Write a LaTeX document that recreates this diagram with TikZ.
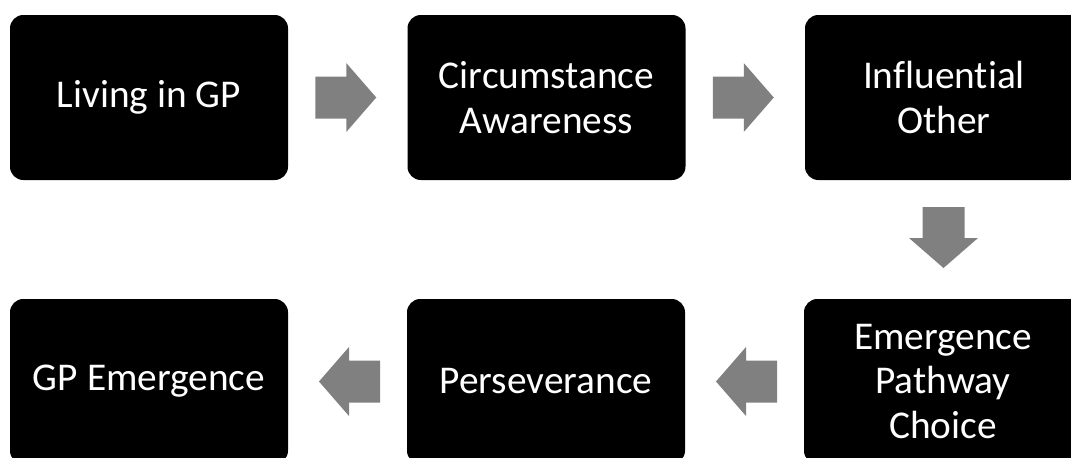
\documentclass[tikz,border=0pt]{standalone}
\usepackage{fontspec}
\setmainfont{Carlito}[Ligatures=NoCommon]
\usetikzlibrary{calc}
\definecolor{arrowgray}{HTML}{808080}
\tikzset{
  box/.style={fill=black, rounded corners=10pt, minimum width=208.5pt, minimum height=123.75pt,
    inner sep=0pt, text=white, align=center, font=\fontsize{29.5}{33.5}\selectfont},
  blockarrow/.pic={
    \fill[arrowgray] (-30.5,-21) -- (0.5,-21) -- (0.5,-34.5) -- (30.5,0) -- (0.5,34.5) -- (0.5,21) -- (-30.5,21) -- cycle;
  }
}
\begin{document}
\begin{tikzpicture}[x=0.75pt,y=-0.75pt]
\useasboundingbox (0,0) rectangle (1071,457);
\clip (0,0) rectangle (1071,457);
\node[box] (a) at (149,97.5) {Living in GP};
\node[box] (b) at (546.5,97.5) {Circumstance\\Awareness};
\node[box] (c) at (944,97.5) {Influential\\Other};
\node[box] (d) at (943,381.5) {Emergence\\Pathway\\Choice};
\node[box] (e) at (546,381.5) {Perseverance};
\node[box] (f) at (149,381.5) {GP Emergence};
\path ($(a.east)!0.5!(b.west)$) ++(-2,0) pic {blockarrow};
\path ($(b.east)!0.5!(c.west)$) ++(-2,0) pic {blockarrow};
\path ($(c.south)!0.5!(d.north)$) ++(0,-2) pic[rotate=-90] {blockarrow};
\path ($(d.west)!0.5!(e.east)$) ++(2,0) pic[rotate=180] {blockarrow};
\path ($(e.west)!0.5!(f.east)$) ++(2,0) pic[rotate=180] {blockarrow};
\end{tikzpicture}
\end{document}
